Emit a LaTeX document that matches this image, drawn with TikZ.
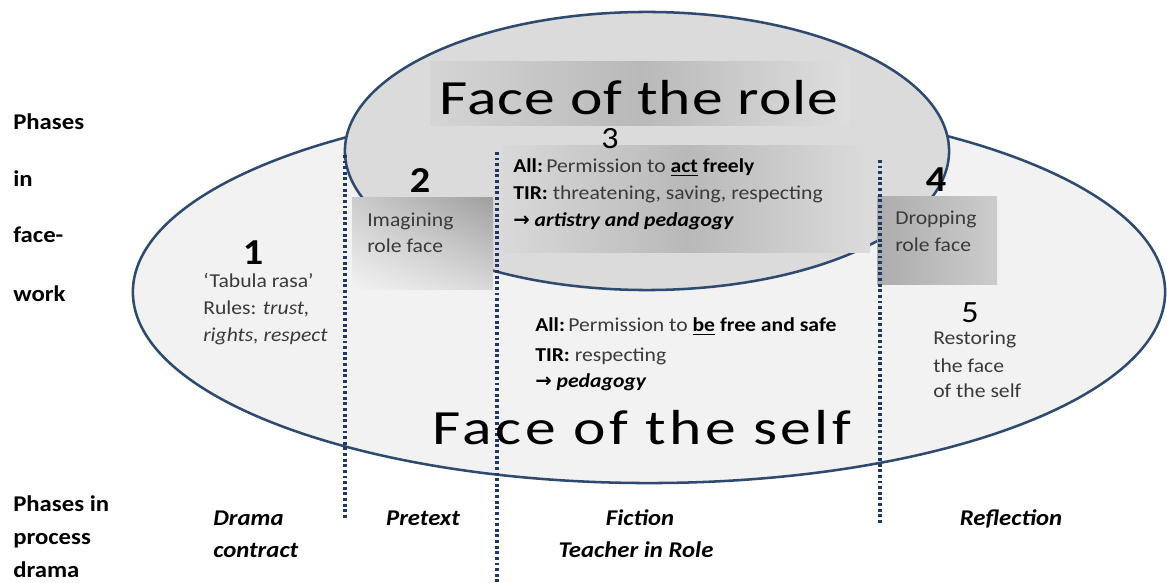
\documentclass[tikz,border=0pt]{standalone}
\usepackage{fontspec}
\setmainfont{Carlito}[FakeStretch=1.1]
\newfontfamily\symf{DejaVu Sans}
\newfontfamily\rolefont{Carlito}[FakeStretch=1.25,LetterSpace=2]
\newfontfamily\selffont{Carlito}[FakeStretch=1.25,LetterSpace=7]
\usetikzlibrary{shapes.geometric,shadings}
\definecolor{edge}{HTML}{2E4A6E}
\definecolor{dotc}{HTML}{1F3864}
\definecolor{txt}{HTML}{3A3A3A}
\begin{document}
\begin{tikzpicture}[x=0.025cm,y=-0.025cm,
 lab/.style={anchor=base west, inner sep=0, font=\fontsize{14}{16}\selectfont, text=txt},
 side/.style={anchor=base west, inner sep=0, font=\fontsize{16}{18}\selectfont\bfseries},
 phase/.style={anchor=base, inner sep=0, font=\fontsize{16}{18}\selectfont\bfseries\itshape},
 num/.style={anchor=base, inner sep=0, font=\fontsize{26}{26}\selectfont\bfseries},
 numl/.style={anchor=base, inner sep=0, font=\fontsize{22}{22}\selectfont},
 big/.style={anchor=base, inner sep=0},
 divider/.style={draw=dotc, line width=2.2pt, dash pattern=on 2pt off 2pt},
 face/.style={draw=edge, line width=1.8pt, ellipse, inner sep=0}]
\useasboundingbox (0,0) rectangle (1167,583);
\fill[white] (0,0) rectangle (1167,583);
% ellipses
\node[face, fill=gray!10, minimum width=25.8cm, minimum height=9.55cm] (self) at (649,292) {};
\node[face, fill=gray!28, minimum width=15.1cm, minimum height=6.95cm] (role) at (647,151) {};
% shaded boxes
\shade[upper left=gray!40, upper right=gray!75, lower left=gray!10, lower right=gray!30] (352,198) rectangle (493,290);
\shade[left color=gray!33, right color=gray!26, middle color=gray!55] (430,62) rectangle (850,126);
\shade[left color=gray!30, right color=gray!28, middle color=gray!55] (502,146) rectangle (870,253);
\shade[left color=gray!65, right color=gray!40] (877,197) rectangle (997,285);
% dividers
\coordinate (d1t) at (345,155); \coordinate (d1b) at (345,520);
\coordinate (d2t) at (497,152); \coordinate (d2b) at (497,583);
\coordinate (d3t) at (880,160); \coordinate (d3b) at (880,525);
\draw[divider] (d1t) -- (d1b);
\draw[divider] (d2t) -- (d2b);
\draw[divider] (d3t) -- (d3b);
% left labels
\node[side] (p1) at (13,130) {Phases};
\node[side] (p2) at (13,187) {in};
\node[side] (p3) at (13,243) {face-};
\node[side] (p4) at (13,302) {work};
\node[side] (q1) at (13,512) {Phases in};
\node[side] (q2) at (13,545) {process};
\node[side] (q3) at (13,578) {drama};
% bottom phases
\node[phase, anchor=base west] (ph1a) at (213,526) {Drama};
\node[phase, anchor=base west] (ph1b) at (213,558) {contract};
\node[phase] (ph2) at (423,526) {Pretext};
\node[phase] (ph3a) at (640,526) {Fiction};
\node[phase] (ph3b) at (636,558) {Teacher in Role};
\node[phase] (ph4) at (1011,526) {Reflection};
% big titles
\node[big, font=\rolefont\fontsize{35}{38}\selectfont] (trole) at (639,115) {Face of the role};
\node[big, font=\selffont\fontsize{35}{38}\selectfont] (tself) at (642,445) {Face of the self};
% numbers
\node[num] (n1) at (253,265) {1};
\node[num] (n2) at (420,193) {2};
\node[numl] (n3) at (610,149) {3};
\node[num] (n4) at (936,192) {4};
\node[numl] (n5) at (970,323) {5};
% texts
\node[lab] (t1a) at (203,288) {‘Tabula rasa’};
\node[lab] (t1b) at (203,315) {Rules: \textit{trust,}};
\node[lab] (t1c) at (203,342) {\textit{rights, respect}};
\node[lab] (t2a) at (367,227) {Imagining};
\node[lab] (t2b) at (367,253) {role face};
\node[lab] (t3a) at (513,173) {\textbf{\color{black}All:}\,Permission to \textbf{\color{black}\underline{act} freely}};
\node[lab] (t3b) at (513,200) {\textbf{\color{black}TIR:} threatening, saving, respecting};
\node[lab] (t3c) at (513,227) {\color{black}{\symf\bfseries →} \textbf{\textit{artistry and pedagogy}}};
\node[lab] (t4a) at (895,225) {Dropping};
\node[lab] (t4b) at (895,252) {role face};
\node[lab] (t5a) at (933,345) {Restoring};
\node[lab] (t5b) at (933,373) {the face};
\node[lab] (t5c) at (933,398) {of the self};
\node[lab] (t6a) at (535,332) {\textbf{\color{black}All:}\,Permission to \textbf{\color{black}\underline{be} free and safe}};
\node[lab] (t6b) at (535,362) {\textbf{\color{black}TIR:} respecting};
\node[lab] (t6c) at (535,388) {\color{black}{\symf\bfseries →} \textbf{\textit{pedagogy}}};
\end{tikzpicture}
\end{document}
